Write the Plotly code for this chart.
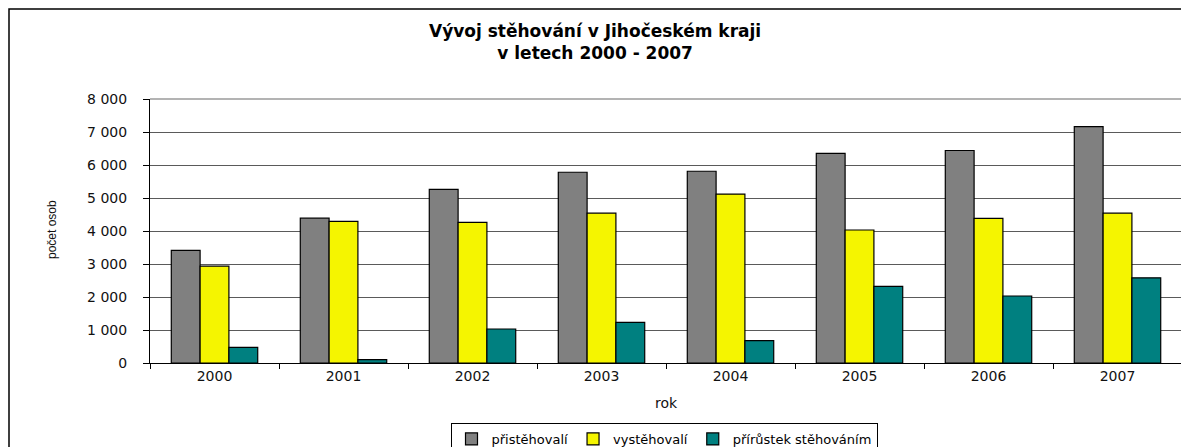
import plotly.graph_objects as go

years = ["2000", "2001", "2002", "2003", "2004", "2005", "2006", "2007"]
pristehovali = [3410, 4390, 5260, 5780, 5810, 6350, 6440, 7160]
vystehovali = [2935, 4290, 4260, 4540, 5120, 4030, 4380, 4540]
prirustek = [475, 100, 1030, 1230, 680, 2320, 2030, 2580]

series_names = ["přistěhovalí", "vystěhovalí", "přírůstek stěhováním"]
series_colors = ["#808080", "#F5F500", "#008080"]

y_tickvals = [0, 1000, 2000, 3000, 4000, 5000, 6000, 7000, 8000]
y_ticktext = ["0", "1 000", "2 000", "3 000", "4 000", "5 000", "6 000", "7 000", "8 000"]

FONT = "DejaVu Sans, Liberation Sans, Arial, sans-serif"

# page has an 8px body margin; lay the figure out so page positions match
OFF = 8
W, H = 1189 - OFF, 447 - OFF
L, T = 150 - OFF, 99 - OFF
PW, PH = 1032, 264
R = W - L - PW
B = H - T - PH


def px(x):
    return (x - OFF - L) / PW


def py(y):
    return (T + PH - (y - OFF)) / PH


fig = go.Figure()
for name, vals, col in zip(series_names, [pristehovali, vystehovali, prirustek], series_colors):
    fig.add_trace(go.Bar(
        x=years, y=vals, name=name,
        marker=dict(color=col, line=dict(color="#000000", width=1.2)),
    ))

fig.update_layout(
    width=W, height=H,
    margin=dict(l=L, r=R, t=T, b=B, autoexpand=False),
    paper_bgcolor="white", plot_bgcolor="white",
    barmode="group", bargap=0.33, bargroupgap=0,
    font=dict(family=FONT, color="#000000", size=12),
    showlegend=True,
    legend=dict(
        orientation="h", xref="container", yref="container",
        x=(664 - OFF) / W, xanchor="center", y=(H - (423 - OFF)) / H, yanchor="top",
        bordercolor="#000000", borderwidth=1, bgcolor="white",
        font=dict(family=FONT, size=13, color="#000000"),
        itemwidth=30, tracegroupgap=0,
    ),
    xaxis=dict(
        type="category", showline=True, linecolor="#000000", linewidth=1,
        ticks="outside", tickson="boundaries", ticklen=5, tickcolor="#000000",
        tickfont=dict(family=FONT, size=14, color="#111111"),
        showgrid=False, zeroline=False, automargin=False,
    ),
    yaxis=dict(
        range=[0, 8000], tickvals=y_tickvals, ticktext=y_ticktext,
        showline=True, linecolor="#000000", linewidth=1,
        ticks="outside", ticklen=6, tickcolor="#000000",
        tickfont=dict(family=FONT, size=14, color="#111111"),
        showgrid=True, gridcolor="#5a5a5a", gridwidth=1,
        zeroline=False, ticklabelstandoff=13, automargin=False,
    ),
    annotations=[
        dict(text="<b>Vývoj stěhování v Jihočeském kraji<br>v letech 2000 - 2007</b>",
             xref="paper", yref="paper", x=px(595), y=py(42), xanchor="center", yanchor="middle",
             showarrow=False, font=dict(family=FONT, size=17, color="#000000")),
        dict(text="rok", xref="paper", yref="paper", x=0.5, y=py(403),
             xanchor="center", yanchor="middle", showarrow=False,
             font=dict(family=FONT, size=14, color="#111111")),
        dict(text="počet osob", xref="paper", yref="paper", x=px(52), y=py(230),
             xanchor="center", yanchor="middle", showarrow=False, textangle=-90,
             font=dict(family="Liberation Sans, Arial, sans-serif", size=12, color="#111111")),
    ],
    shapes=[
        dict(type="rect", xref="paper", yref="paper", x0=px(9), x1=px(1260), y0=py(520), y1=py(9),
             line=dict(color="#000000", width=1.5), fillcolor="rgba(0,0,0,0)", layer="below"),
        dict(type="line", xref="paper", yref="paper", x0=0, x1=1, y0=1, y1=1,
             line=dict(color="#9a9a9a", width=1.5)),
        dict(type="line", xref="paper", yref="paper", x0=1, x1=1, y0=0, y1=1,
             line=dict(color="#9a9a9a", width=1.5)),
    ],
)

fig.write_html("out.html")
